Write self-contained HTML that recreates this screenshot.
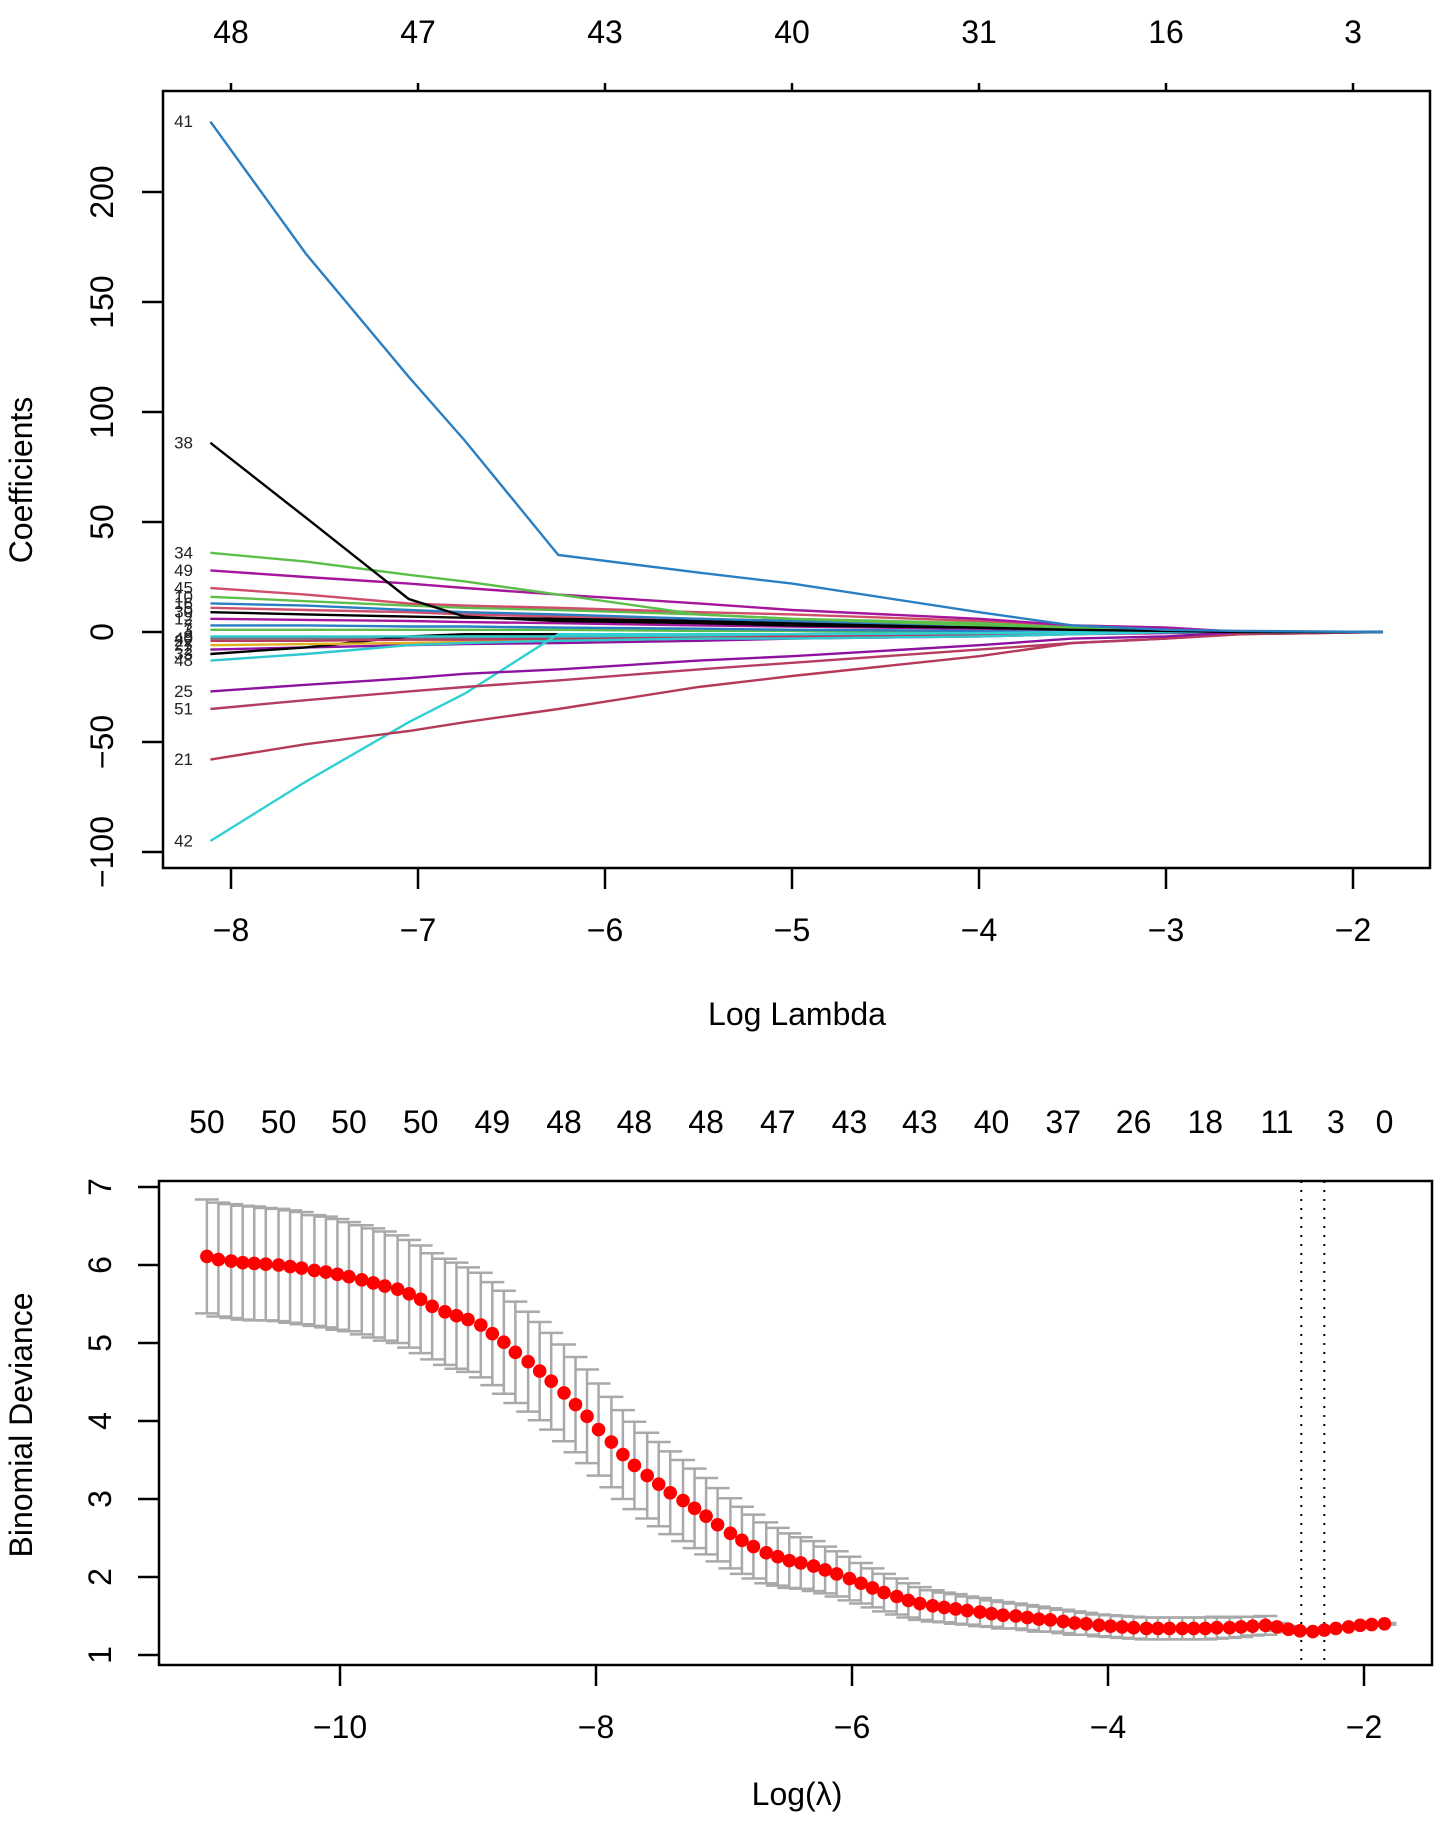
<!DOCTYPE html>
<html><head><meta charset="utf-8"><style>
html,body{margin:0;padding:0;background:#fff;}
svg{display:block;font-family:"Liberation Sans",Arial,sans-serif;}
</style></head><body>
<svg id="fig" width="1441" height="1835" viewBox="0 0 1441 1835" xmlns="http://www.w3.org/2000/svg"></svg>
<script>
// ---------- Top chart data (coefficient paths) ----------
const pathLambda = [-8.11, -7.6, -7.05, -6.75, -6.25, -5.5, -5.0, -4.0, -3.5, -3.0, -2.6, -1.84];
const topTickVals = [-8, -7, -6, -5, -4, -3, -2];
const topDfLabels = ["48", "47", "43", "40", "31", "16", "3"];
const coefTicks = [-100, -50, 0, 50, 100, 150, 200];
const seriesNames = ["41","38","34","49","45","25","51","21","42","48","10","16","30","5","12","7","3","9","22","27","33","2","40"];
const seriesColors = ["#2a7fc2","#000000","#5cbf4a","#a5169c","#cf4f6b","#8e12a0","#b63c60","#b53a5a","#2fd0d2","#30c8d0","#5cbf4a","#2a7fc2","#000000","#cf4f6b","#a5169c","#2a7fc2","#5cbf4a","#30c8d0","#b63c60","#e0b020","#000000","#8e12a0","#777777"];
const s41 = [232, 172, 116, 87, 35, 27, 22, 9, 3, 1, 0.5, 0];
const s38 = [86, 52, 15, 7, 5, 4, 3, 2, 1, 0.5, 0, 0];
const s34 = [36, 32, 26, 23, 17, 8, 6, 4, 2, 1, 0, 0];
const s49 = [28, 25, 22, 20, 17, 13, 10, 6, 3, 2, 0, 0];
const s45 = [20, 17, 13, 12, 11, 9, 8, 5, 3, 2, 0, 0];
const s25 = [-27, -24, -21, -19, -17, -13, -11, -6, -3, -2, 0, 0];
const s51 = [-35, -31, -27, -25, -22, -17, -14, -8, -5, -3, -1, 0];
const s21 = [-58, -51, -45, -41, -35, -25, -20, -11, -5, -3, -1, 0];
const s42 = [-95, -68, -41, -28, -1, -1, -1, -0.5, 0, 0, 0, 0];
const s48 = [-13, -10, -6, -5, -4, -3, -3, -2, -1, 0, 0, 0];
const s10 = [16, 14, 12, 11, 10, 8, 6, 3, 1, 0.5, 0, 0];
const s16 = [13, 12, 10, 9, 8, 6, 5, 3, 1, 0.5, 0, 0];
const s30 = [9, 8, 7, 6.5, 6, 5, 4, 2, 1, 0.5, 0, 0];
const s5 = [11, 10, 9, 8, 7, 6, 5, 3, 1, 0.5, 0, 0];
const s12 = [6, 5.5, 5, 4.5, 4, 3, 2.5, 1.5, 1, 0.5, 0, 0];
const s7 = [3, 3, 2.5, 2.5, 2, 1.5, 1, 0.5, 0, 0, 0, 0];
const s3 = [1, 1, 1, 1, 1, 0.5, 0.5, 0, 0, 0, 0, 0];
const s9 = [-2, -2, -2, -2, -2, -1.5, -1, -0.5, 0, 0, 0, 0];
const s22 = [-4, -4, -3.5, -3.5, -3, -2.5, -2, -1, -0.5, 0, 0, 0];
const s27 = [-6, -5.5, -5, -4.5, -4, -3, -2.5, -1.5, -1, 0, 0, 0];
const s33 = [-10, -7, -2, -1, -1, -1, -1, -0.5, 0, 0, 0, 0];
const s2 = [-8, -7, -6, -5.5, -5, -4, -3, -2, -1, -0.5, 0, 0];
const s40 = [-3, -3, -3, -3, -3, -2.5, -2, -1, -0.5, 0, 0, 0];
const seriesValues = [s41,s38,s34,s49,s45,s25,s51,s21,s42,s48,s10,s16,s30,s5,s12,s7,s3,s9,s22,s27,s33,s2,s40];

// ---------- Bottom chart data (CV deviance) ----------
const cvLambda = [-11.04,-10.95,-10.85,-10.76,-10.67,-10.58,-10.48,-10.39,-10.30,-10.20,
-10.11,-10.02,-9.93,-9.83,-9.74,-9.65,-9.55,-9.46,-9.37,-9.28,
-9.18,-9.09,-9.00,-8.90,-8.81,-8.72,-8.63,-8.53,-8.44,-8.35,
-8.25,-8.16,-8.07,-7.98,-7.88,-7.79,-7.70,-7.60,-7.51,-7.42,
-7.32,-7.23,-7.14,-7.05,-6.95,-6.86,-6.77,-6.67,-6.58,-6.49,
-6.40,-6.30,-6.21,-6.12,-6.02,-5.93,-5.84,-5.75,-5.65,-5.56,
-5.47,-5.37,-5.28,-5.19,-5.10,-5.00,-4.91,-4.82,-4.72,-4.63,
-4.54,-4.45,-4.35,-4.26,-4.17,-4.07,-3.98,-3.89,-3.80,-3.70,
-3.61,-3.52,-3.42,-3.33,-3.24,-3.15,-3.05,-2.96,-2.87,-2.77,
-2.68,-2.59,-2.50,-2.40,-2.31,-2.22,-2.12,-2.03,-1.94,-1.84];
const cvMean = [6.11,6.07,6.05,6.03,6.02,6.01,6.00,5.98,5.96,5.93,
5.91,5.88,5.85,5.81,5.77,5.73,5.69,5.63,5.56,5.47,
5.40,5.35,5.30,5.23,5.12,5.01,4.88,4.76,4.64,4.51,
4.36,4.21,4.06,3.89,3.73,3.57,3.43,3.30,3.19,3.08,
2.98,2.88,2.78,2.67,2.56,2.47,2.39,2.31,2.26,2.21,
2.18,2.14,2.09,2.04,1.98,1.92,1.86,1.80,1.75,1.70,
1.66,1.63,1.61,1.59,1.57,1.55,1.53,1.51,1.50,1.48,
1.46,1.45,1.43,1.41,1.40,1.38,1.37,1.36,1.35,1.34,
1.34,1.34,1.34,1.34,1.34,1.35,1.35,1.36,1.37,1.38,
1.36,1.33,1.31,1.30,1.32,1.34,1.36,1.38,1.39,1.40];
const cvSe = [0.73,0.73,0.73,0.73,0.73,0.72,0.72,0.72,0.72,0.71,
0.71,0.71,0.70,0.70,0.70,0.70,0.69,0.69,0.69,0.68,
0.68,0.68,0.67,0.67,0.66,0.66,0.65,0.64,0.63,0.62,
0.62,0.61,0.60,0.59,0.58,0.57,0.56,0.55,0.54,0.53,
0.52,0.51,0.49,0.47,0.45,0.43,0.41,0.39,0.37,0.35,
0.33,0.32,0.30,0.29,0.28,0.26,0.25,0.24,0.23,0.22,
0.21,0.20,0.19,0.19,0.18,0.18,0.17,0.17,0.16,0.16,
0.16,0.15,0.15,0.15,0.14,0.14,0.14,0.14,0.14,0.14,
0.14,0.14,0.14,0.14,0.14,0.14,0.13,0.13,0.12,0.12,
0.05,0.04,0.02,0.01,0.01,0.01,0.01,0.01,0.01,0.01];
const nzIndex = [0,6,12,18,24,30,36,42,48,54,60,66,72,78,84,90,95,99];
const nzLabels = ["50","50","50","50","49","48","48","48","47","43","43","40","37","26","18","11","3","0"];
const cvXTicks = [-10, -8, -6, -4, -2];
const cvYTicks = [1, 2, 3, 4, 5, 6, 7];
const lambdaMin = -2.49;
const lambda1se = -2.31;

const NS = "http://www.w3.org/2000/svg";
const svg = document.getElementById("fig");
function mk(tag, attrs, parent) {
  const e = document.createElementNS(NS, tag);
  for (const k in attrs) e.setAttribute(k, attrs[k]);
  (parent || svg).appendChild(e);
  return e;
}
function txt(s, x, y, size, parent, rot) {
  const t = mk("text", {x: x, y: y, "font-size": size, "text-anchor": "middle", "dominant-baseline": "central", fill: "#000"}, parent);
  if (rot) t.setAttribute("transform", "rotate(-90 " + x + " " + y + ")");
  t.textContent = s;
  return t;
}

// ===== Top chart =====
const tx = v => 231 + (v + 8) * 187;
const ty = v => 632 - 2.2 * v;
const g1 = mk("g", {});



const gLines = mk("g", {}, g1);


for (let s = seriesValues.length - 1; s >= 0; s--) {
  const vals = seriesValues[s];
  const d = vals.map((v, i) => (i ? "L" : "M") + tx(pathLambda[i]).toFixed(1) + " " + ty(v).toFixed(1)).join(" ");
  const p = mk("path", {d: d, fill: "none", stroke: seriesColors[s], "stroke-width": 2.4}, gLines);
  
  
}
const gLab = mk("g", {}, g1);


for (let s = 0; s < seriesValues.length; s++) {
  const t = mk("text", {x: 193, y: ty(seriesValues[s][0]), "font-size": 17, "text-anchor": "end", "dominant-baseline": "central", fill: "#222"}, gLab);
  t.textContent = seriesNames[s];
  
  
}
const box1 = mk("rect", {x: 163, y: 91, width: 1267, height: 777, fill: "none", stroke: "#000", "stroke-width": 2.5}, g1);



const gx1 = mk("g", {}, g1);


topTickVals.forEach((v, i) => {
  const x = tx(v);
  mk("line", {x1: x, y1: 868, x2: x, y2: 889, stroke: "#000", "stroke-width": 2.5}, gx1);
  const t = txt(String(v).replace("-", "\u2212"), x, 930, 32, gx1);
  
  
  mk("line", {x1: x, y1: 91, x2: x, y2: 83, stroke: "#000", "stroke-width": 2.5}, gx1);
  const t2 = txt(topDfLabels[i], x, 32, 32, gx1);
  
  
});
const gy1 = mk("g", {}, g1);


coefTicks.forEach(v => {
  const y = ty(v);
  mk("line", {x1: 142, y1: y, x2: 163, y2: y, stroke: "#000", "stroke-width": 2.5}, gy1);
  const t = txt(String(v).replace("-", "\u2212"), 102, y, 32, gy1, true);
  
  
});
const xt1 = txt("Log Lambda", 797, 1014, 32, g1);


const yt1 = txt("Coefficients", 21, 480, 32, g1, true);



// ===== Bottom chart =====
const bx = v => 1108 + (v + 4) * 128;
const by = v => 1187 + (7 - v) * 78;
const g2 = mk("g", {});



const gErr = mk("g", {stroke: "#a9a9a9", "stroke-width": 2.5}, g2);


cvLambda.forEach((l, i) => {
  const x = bx(l), hi = by(cvMean[i] + cvSe[i]), lo = by(cvMean[i] - cvSe[i]);
  mk("line", {x1: x, y1: hi, x2: x, y2: lo}, gErr);
  mk("line", {x1: x - 12, y1: hi, x2: x + 12, y2: hi}, gErr);
  mk("line", {x1: x - 12, y1: lo, x2: x + 12, y2: lo}, gErr);
});
[lambdaMin, lambda1se].forEach((l, k) => {
  const ln = mk("line", {x1: bx(l), y1: 1181, x2: bx(l), y2: 1665, stroke: "#000", "stroke-width": 2, "stroke-dasharray": "2 7"}, g2);
  
  
});
const gPts = mk("g", {fill: "#ff0000"}, g2);


cvLambda.forEach((l, i) => {
  const c = mk("circle", {cx: bx(l), cy: by(cvMean[i]), r: 6.8}, gPts);
  
  
});
const box2 = mk("rect", {x: 159, y: 1181, width: 1273, height: 484, fill: "none", stroke: "#000", "stroke-width": 2.5}, g2);



const gx2 = mk("g", {}, g2);


cvXTicks.forEach(v => {
  const x = bx(v);
  mk("line", {x1: x, y1: 1665, x2: x, y2: 1686, stroke: "#000", "stroke-width": 2.5}, gx2);
  const t = txt(String(v).replace("-", "\u2212"), x, 1727, 32, gx2);
  
  
});
const gnz = mk("g", {}, g2);


nzIndex.forEach((idx, k) => {
  const t = txt(nzLabels[k], bx(cvLambda[idx]), 1122, 32, gnz);
  
  
});
const gy2 = mk("g", {}, g2);


cvYTicks.forEach(v => {
  const y = by(v);
  mk("line", {x1: 138, y1: y, x2: 159, y2: y, stroke: "#000", "stroke-width": 2.5}, gy2);
  const t = txt(String(v), 100, y, 32, gy2, true);
  
  
});
const xt2 = txt("Log(\u03bb)", 797, 1794, 32, g2);


const yt2 = txt("Binomial Deviance", 21, 1425, 32, g2, true);


</script>
</body></html>
